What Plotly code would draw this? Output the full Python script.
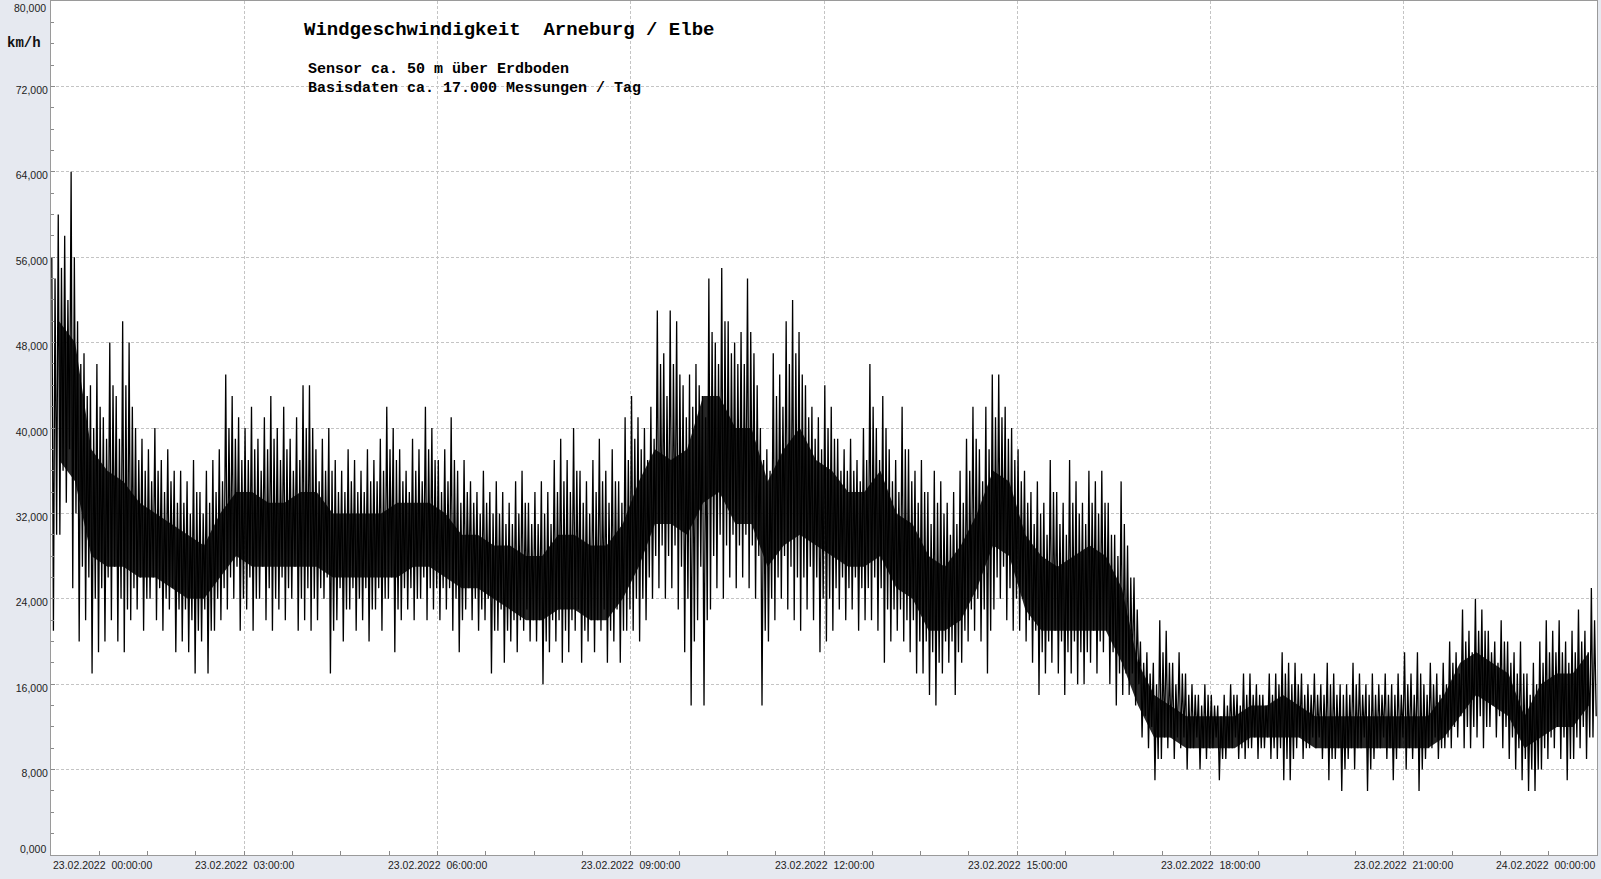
import plotly.graph_objects as go

# ---------------- data (km/h) ----------------
# extreme high / low per 6-minute bin, 10 bins per hour, 00:00 .. 24:00
spike_high = [
    56, 60, 58, 64, 50, 47, 44, 46, 41, 48,
    43, 50, 48, 40, 39, 38, 40, 37, 38, 36,
    36, 35, 37, 34, 36, 37, 38, 45, 43, 41,
    40, 42, 39, 41, 43, 40, 42, 39, 41, 44,
    44, 38, 39, 40, 37, 36, 38, 37, 36, 38,
    37, 39, 42, 40, 38, 36, 39, 38, 42, 40,
    37, 38, 41, 36, 37, 35, 34, 36, 34, 35,
    34, 33, 35, 36, 33, 34, 35, 34, 37, 39,
    37, 40, 36, 35, 37, 39, 36, 38, 35, 41,
    43, 41, 40, 42, 51, 47, 51, 50, 44, 45,
    46, 43, 54, 48, 55, 50, 48, 49, 54, 47,
    40, 38, 47, 45, 50, 52, 49, 44, 42, 41,
    44, 42, 39, 38, 39, 37, 40, 46, 40, 43,
    38, 37, 42, 38, 36, 37, 34, 36, 35, 33,
    34, 36, 39, 42, 38, 42, 45, 45, 42, 40,
    38, 36, 34, 35, 33, 37, 34, 33, 37, 35,
    33, 36, 35, 36, 33, 30, 35, 29, 26, 20,
    19, 18, 22, 21, 18, 19, 17, 16, 15, 16,
    15, 14, 15, 16, 15, 17, 17, 16, 15, 17,
    17, 19, 18, 18, 17, 16, 17, 16, 18, 17,
    16, 16, 18, 17, 16, 17, 16, 17, 16, 17,
    19, 17, 19, 16, 18, 17, 18, 20, 19, 23,
    21, 24, 23, 21, 20, 22, 20, 19, 20, 17,
    18, 20, 22, 21, 22, 20, 21, 23, 21, 25,
]
spike_low = [
    21, 30, 33, 25, 20, 22, 17, 19, 20, 22,
    20, 19, 22, 23, 21, 24, 22, 21, 23, 19,
    20, 19, 17, 20, 17, 21, 22, 23, 24, 21,
    23, 21, 24, 22, 21, 23, 22, 24, 21, 22,
    21, 22, 24, 17, 22, 20, 23, 21, 22, 20,
    23, 21, 24, 19, 22, 23, 22, 24, 22, 23,
    22, 23, 21, 19, 23, 22, 21, 22, 17, 21,
    18, 20, 19, 21, 20, 20, 16, 19, 20, 18,
    19, 21, 18, 20, 19, 21, 18, 20, 18, 21,
    21, 20, 22, 24, 25, 24, 25, 23, 19, 14,
    22, 14, 23, 25, 24, 26, 25, 26, 25, 24,
    14, 20, 22, 24, 23, 22, 21, 23, 22, 19,
    20, 21, 23, 22, 23, 21, 22, 22, 21, 18,
    20, 21, 20, 19, 17, 17, 15, 14, 17, 18,
    15, 18, 20, 21, 20, 17, 23, 24, 22, 21,
    21, 20, 18, 15, 17, 18, 17, 15, 17, 16,
    16, 18, 17, 19, 16, 14, 15, 15, 14, 11,
    10, 7, 9, 10, 9, 10, 8, 10, 8, 9,
    10, 7, 9, 10, 9, 9, 10, 9, 10, 9,
    9, 7, 7, 10, 9, 10, 10, 9, 7, 9,
    6, 9, 8, 10, 6, 9, 10, 9, 7, 10,
    8, 9, 6, 9, 10, 9, 10, 10, 11, 10,
    10, 11, 10, 12, 11, 10, 9, 8, 7, 6,
    6, 8, 9, 10, 9, 7, 9, 10, 9, 11,
]
# typical (second-highest / second-lowest) swing per 6-minute bin
swing_high = [
    54, 55, 52, 56, 46, 43, 40, 42, 39, 44,
    39, 44, 42, 37, 36, 35, 36, 34, 35, 33,
    33, 32, 34, 32, 33, 34, 35, 40, 39, 37,
    37, 38, 36, 38, 39, 37, 38, 36, 37, 40,
    40, 35, 36, 36, 34, 34, 35, 34, 34, 35,
    35, 36, 38, 37, 35, 34, 36, 35, 38, 37,
    34, 35, 37, 33, 34, 33, 32, 33, 32, 32,
    31, 31, 32, 33, 31, 31, 32, 31, 34, 35,
    34, 36, 33, 32, 34, 35, 33, 35, 33, 37,
    39, 38, 37, 39, 46, 43, 46, 45, 41, 42,
    44, 41, 49, 46, 50, 47, 46, 46, 49, 44,
    37, 36, 43, 42, 46, 47, 45, 41, 39, 38,
    40, 39, 36, 36, 36, 35, 37, 42, 37, 40,
    35, 34, 38, 35, 33, 34, 31, 33, 32, 30,
    31, 33, 36, 39, 35, 38, 41, 41, 39, 37,
    35, 33, 31, 32, 30, 34, 31, 30, 33, 32,
    31, 33, 32, 33, 30, 28, 31, 26, 23, 18,
    17, 16, 19, 18, 16, 17, 15, 15, 14, 15,
    14, 13, 14, 15, 14, 15, 15, 15, 14, 15,
    16, 17, 16, 16, 15, 15, 15, 15, 16, 15,
    15, 15, 16, 15, 15, 15, 15, 15, 15, 15,
    16, 15, 17, 15, 16, 15, 16, 18, 17, 20,
    19, 21, 21, 19, 18, 20, 18, 17, 17, 15,
    16, 18, 19, 19, 19, 18, 19, 20, 19, 22,
]
swing_low = [
    30, 36, 38, 32, 27, 26, 24, 25, 26, 27,
    24, 23, 25, 26, 24, 26, 25, 24, 25, 23,
    23, 22, 21, 23, 21, 24, 25, 26, 27, 24,
    26, 24, 27, 25, 24, 26, 25, 27, 24, 25,
    24, 25, 26, 21, 25, 23, 25, 24, 25, 23,
    25, 24, 26, 23, 25, 25, 24, 26, 25, 25,
    25, 25, 24, 22, 25, 24, 23, 24, 21, 23,
    21, 22, 22, 23, 22, 22, 20, 22, 22, 21,
    22, 23, 21, 22, 22, 23, 21, 23, 21, 23,
    24, 24, 26, 28, 29, 28, 29, 27, 24, 20,
    27, 22, 28, 30, 29, 30, 29, 30, 29, 28,
    21, 24, 26, 28, 27, 26, 26, 27, 26, 24,
    24, 25, 26, 25, 26, 25, 25, 26, 25, 23,
    23, 23, 22, 22, 20, 20, 19, 18, 20, 20,
    19, 21, 23, 24, 23, 21, 26, 27, 25, 24,
    24, 22, 21, 19, 20, 21, 20, 19, 20, 19,
    19, 21, 20, 21, 19, 17, 17, 17, 16, 13,
    12, 9, 11, 11, 11, 11, 10, 11, 10, 10,
    11, 9, 10, 11, 10, 10, 11, 10, 11, 10,
    10, 9, 9, 11, 10, 11, 11, 10, 9, 10,
    8, 10, 10, 11, 8, 10, 11, 10, 9, 11,
    10, 10, 8, 10, 11, 10, 11, 12, 13, 12,
    12, 13, 12, 14, 13, 12, 11, 10, 9, 8,
    8, 10, 11, 12, 11, 9, 11, 12, 11, 13,
]
# dense core of the signal per quarter hour (4 per hour)
core_low = [
    37, 35, 28, 27,  27, 26, 26, 25,  24, 24, 26, 28,  27, 27, 27, 27,
    27, 26, 26, 26,  26, 26, 27, 27,  26, 25, 25, 24,  23, 22, 22, 23,
    23, 22, 22, 24,  27, 31, 31, 30,  33, 34, 31, 31,  27, 29, 30, 29,
    28, 27, 27, 28,  25, 24, 21, 21,  22, 25, 29, 28,  23, 21, 21, 21,
    21, 21, 18, 14,  11, 11, 10, 10,  10, 10, 11, 11,  11, 11, 10, 10,
    10, 10, 10, 10,  10, 10, 11, 13,  15, 14, 13, 10,  11, 12, 12, 14,
]
core_high = [
    50, 48, 38, 36,  35, 33, 32, 31,  30, 29, 32, 34,  34, 33, 33, 34,
    34, 32, 32, 32,  32, 33, 33, 33,  32, 30, 30, 29,  29, 28, 28, 30,
    30, 29, 29, 31,  35, 38, 37, 38,  43, 43, 40, 40,  35, 38, 40, 37,
    36, 34, 34, 36,  32, 31, 28, 27,  29, 32, 36, 35,  30, 28, 27, 28,
    29, 28, 25, 18,  15, 14, 13, 13,  13, 13, 14, 14,  15, 14, 13, 13,
    13, 13, 13, 13,  13, 13, 15, 18,  19, 18, 17, 13,  16, 17, 17, 19,
]

y_tick_values = [8, 16, 24, 32, 40, 48, 56, 64, 72]
y_tick_labels = ["8,000", "16,000", "24,000", "32,000", "40,000",
                 "48,000", "56,000", "64,000", "72,000"]
x_label_hours = [0, 3, 6, 9, 12, 15, 18, 21, 24]
x_labels = ["23.02.2022\u00a0\u00a000:00:00", "23.02.2022\u00a0\u00a003:00:00",
            "23.02.2022\u00a0\u00a006:00:00", "23.02.2022\u00a0\u00a009:00:00",
            "23.02.2022\u00a0\u00a012:00:00", "23.02.2022\u00a0\u00a015:00:00",
            "23.02.2022\u00a0\u00a018:00:00", "23.02.2022\u00a0\u00a021:00:00",
            "24.02.2022\u00a0\u00a000:00:00"]

# ---------------- build traces ----------------
bin_h = 0.1
zz_t, zz_v = [], []
for i in range(len(spike_high)):
    t0 = i * bin_h
    zz_t += [t0 + 0.125 * bin_h, t0 + 0.375 * bin_h, t0 + 0.625 * bin_h, t0 + 0.875 * bin_h]
    zz_v += [spike_high[i], spike_low[i], swing_high[i], swing_low[i]]
core_t = [(k + 0.5) * 0.25 for k in range(len(core_low))]

fig = go.Figure()
fig.add_trace(go.Scatter(x=core_t, y=core_low, mode="lines",
                         line=dict(width=0, color="black"),
                         showlegend=False, hoverinfo="skip"))
fig.add_trace(go.Scatter(x=core_t, y=core_high, mode="lines", fill="tonexty",
                         fillcolor="rgba(0,0,0,0.85)", line=dict(width=0, color="black"),
                         showlegend=False, hoverinfo="skip"))
fig.add_trace(go.Scatter(x=zz_t, y=zz_v, mode="lines",
                         line=dict(width=1.3, color="black"),
                         showlegend=False))

grid = dict(gridcolor="#C4C4C4", griddash="3px,2px", gridwidth=1)
tickfont = dict(family="Liberation Sans, Arial, sans-serif", size=10.5, color="#222222")

fig.update_layout(
    width=1601, height=879,
    margin=dict(l=51, r=4, t=1, b=24),
    paper_bgcolor="#E6E9F0",
    plot_bgcolor="white",
    showlegend=False,
    xaxis=dict(range=[0, 24], tickvals=[3, 6, 9, 12, 15, 18, 21],
               showticklabels=False, ticks="inside", ticklen=4, tickcolor="#8A8A8A",
               minor=dict(dtick=0.75, tick0=0, ticks="inside", ticklen=4,
                          tickcolor="#8A8A8A", showgrid=False),
               showline=True, linecolor="#9A9A9A", mirror=True, zeroline=False, **grid),
    yaxis=dict(range=[0, 80], tickvals=y_tick_values, ticktext=y_tick_labels,
               ticks="inside", ticklen=4, tickcolor="#8A8A8A", tickfont=tickfont,
               ticklabelshift=4,
               minor=dict(dtick=2, tick0=0, ticks="inside", ticklen=3,
                          tickcolor="#8A8A8A", showgrid=False),
               showline=True, linecolor="#9A9A9A", mirror=True, zeroline=False, **grid),
)

# hide the 72 grid line behind the text block
fig.add_shape(type="line", xref="paper", yref="y", x0=0.157, x1=0.431, y0=72, y1=72,
              line=dict(color="white", width=3), layer="between")

# y end labels
fig.add_annotation(text="0,000", xref="paper", yref="paper", x=0, y=0, xanchor="right",
                   yanchor="middle", xshift=-3, yshift=6, showarrow=False, font=tickfont)
fig.add_annotation(text="80,000", xref="paper", yref="paper", x=0, y=1, xanchor="right",
                   yanchor="middle", xshift=-3, yshift=-7, showarrow=False, font=tickfont)

# x labels
for h, lab in zip(x_label_hours, x_labels):
    anchor = "left" if h == 0 else ("right" if h == 24 else "center")
    fig.add_annotation(text=lab, xref="x", yref="paper", x=h, y=0, xanchor=anchor,
                       yanchor="middle", yshift=-10, showarrow=False, font=tickfont)

mono = "Liberation Mono, Courier New, monospace"
fig.add_annotation(text="<b>km/h</b>", xref="paper", yref="paper", x=-0.0175, y=0.951,
                   xanchor="center", yanchor="middle", showarrow=False,
                   font=dict(family=mono, size=14, color="#111111"))
fig.add_annotation(text="<b>" + "Windgeschwindigkeit  Arneburg / Elbe".replace(" ", "\u00a0") + "</b>",
                   xref="paper", yref="paper", x=0.1624, y=0.966, xanchor="left",
                   yanchor="middle", showarrow=False,
                   font=dict(family=mono, size=19, color="black"))
fig.add_annotation(text="<b>" + "Sensor ca. 50 m über Erdboden".replace(" ", "\u00a0") + "</b>",
                   xref="paper", yref="paper", x=0.165, y=0.920, xanchor="left",
                   yanchor="middle", showarrow=False,
                   font=dict(family=mono, size=15, color="black"))
fig.add_annotation(text="<b>" + "Basisdaten ca. 17.000 Messungen / Tag".replace(" ", "\u00a0") + "</b>",
                   xref="paper", yref="paper", x=0.165, y=0.897, xanchor="left",
                   yanchor="middle", showarrow=False,
                   font=dict(family=mono, size=15, color="black"))

fig.write_html("out.html", config={"displayModeBar": False},
               post_script="document.body.style.margin='0';document.body.style.overflow='hidden';")
